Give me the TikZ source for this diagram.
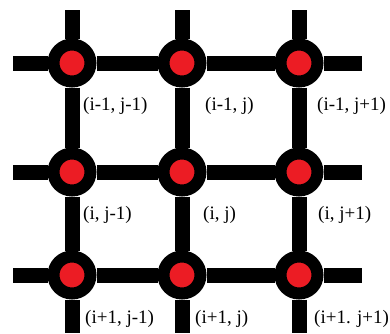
\documentclass[tikz,border=0pt]{standalone}
\usepackage{fontspec}
\setmainfont{Liberation Serif}
\usetikzlibrary{positioning,backgrounds}
\definecolor{sitered}{RGB}{236,28,36}
\tikzset{
  site/.style={circle,fill=sitered,draw=black,line width=12pt,minimum size=37pt,inner sep=0pt},
  bond/.style={line width=15pt},
  idx/.style={inner sep=0pt,font=\fontsize{19}{21}\selectfont}
}

\begin{document}
\begin{tikzpicture}[x=1pt,y=1pt]
  \useasboundingbox (0,0) rectangle (390,333);
  % lattice sites
  \node[site] (a11) at (72,270) {};
  \node[site] (a12) at (182,270) {};
  \node[site] (a13) at (299,270) {};
  \node[site] (a21) at (72,161) {};
  \node[site] (a22) at (182,161) {};
  \node[site] (a23) at (299,161) {};
  \node[site] (a31) at (72,58) {};
  \node[site] (a32) at (182,58) {};
  \node[site] (a33) at (299,58) {};
  % open ends of the bonds
  \coordinate (w1) at (13,270);  \coordinate (e1) at (362,270);
  \coordinate (w2) at (13,161);  \coordinate (e2) at (362,161);
  \coordinate (w3) at (13,58);   \coordinate (e3) at (362,58);
  \coordinate (n1) at (72,323);  \coordinate (s1) at (72,0);
  \coordinate (n2) at (182,323); \coordinate (s2) at (182,0);
  \coordinate (n3) at (299,323); \coordinate (s3) at (299,0);
  \begin{scope}[on background layer]
    \draw[bond] (w1) -- (a11) -- (a12) -- (a13) -- (e1);
    \draw[bond] (w2) -- (a21) -- (a22) -- (a23) -- (e2);
    \draw[bond] (w3) -- (a31) -- (a32) -- (a33) -- (e3);
    \draw[bond] (n1) -- (a11) -- (a21) -- (a31) -- (s1);
    \draw[bond] (n2) -- (a12) -- (a22) -- (a32) -- (s2);
    \draw[bond] (n3) -- (a13) -- (a23) -- (a33) -- (s3);
  \end{scope}
  % indices
  \node[idx,below right=34 and 11 of a11.center] (l11) {(i-1, j-1)};
  \node[idx,below right=34 and 23 of a12.center] (l12) {(i-1, j)};
  \node[idx,below right=34 and 18 of a13.center] (l13) {(i-1, j+1)};
  \node[idx,below right=34 and 11 of a21.center] (l21) {(i, j-1)};
  \node[idx,below right=34 and 21 of a22.center] (l22) {(i, j)};
  \node[idx,below right=34 and 19 of a23.center] (l23) {(i, j+1)};
  \node[idx,below right=35 and 13 of a31.center] (l31) {(i+1, j-1)};
  \node[idx,below right=35 and 13 of a32.center] (l32) {(i+1, j)};
  \node[idx,below right=35 and 15 of a33.center] (l33) {(i+1. j+1)};
\end{tikzpicture}
\end{document}
